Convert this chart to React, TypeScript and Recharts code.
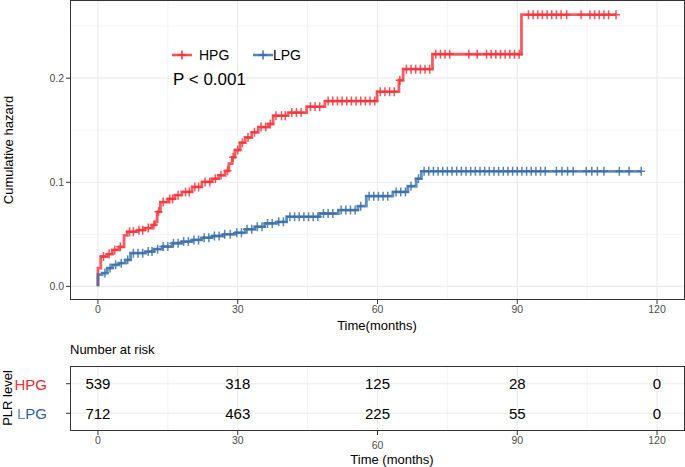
import React from 'react';
import { ComposedChart, Line, Scatter, XAxis, YAxis, CartesianGrid } from 'recharts';

// ---- data ----
const hpgTime = [0, 0, 0.6, 2.0, 3.1, 4.5, 5.6, 6.3, 8.5, 10.0, 11.6, 12.3, 12.7, 13.4, 15.0, 16.5, 18.0, 20.2, 22.3, 24.5, 25.9, 27.3, 28.1, 28.8, 29.4, 30.5, 31.6, 33.0, 34.4, 36.6, 37.6, 40.8, 44.8, 48.7, 59.9, 64.6, 65.5, 71.8, 90.9, 111.2];
const hpgHaz = [0, 0.0176, 0.0287, 0.031, 0.035, 0.038, 0.049, 0.0525, 0.054, 0.056, 0.059, 0.062, 0.0716, 0.081, 0.084, 0.0876, 0.0907, 0.0955, 0.1003, 0.1035, 0.1067, 0.111, 0.118, 0.124, 0.131, 0.138, 0.143, 0.148, 0.153, 0.156, 0.164, 0.167, 0.1726, 0.178, 0.187, 0.198, 0.2086, 0.223, 0.261, 0.261];

const lpgTime = [0, 0, 0.9, 2.0, 3.1, 4.5, 5.9, 7.0, 10.2, 12.0, 13.8, 15.9, 18.0, 20.2, 22.3, 24.5, 27.0, 29.5, 31.6, 33.7, 35.8, 38.4, 40.5, 47.6, 51.6, 55.8, 57.6, 63.3, 66.5, 68.3, 69.4, 116.6];
const lpgHaz = [0, 0.0112, 0.0128, 0.0176, 0.0207, 0.0223, 0.0255, 0.0319, 0.0334, 0.0357, 0.0382, 0.0414, 0.043, 0.0446, 0.0468, 0.0484, 0.05, 0.0516, 0.0548, 0.0573, 0.0605, 0.062, 0.0669, 0.07, 0.0733, 0.077, 0.0866, 0.0907, 0.0962, 0.1035, 0.1105, 0.1105];

const hpgCensor = [1.2, 2.4, 3.6, 4.8, 6.8, 7.6, 8.8, 9.6, 10.8, 12.0, 13.0, 14.0, 15.4, 16.0, 17.2, 18.8, 19.6, 20.8, 21.6, 23.0, 24.0, 25.2, 26.4, 27.8, 29.0, 30.0, 31.0, 32.2, 33.6, 35.0, 36.0, 37.0, 38.2, 39.4, 40.2, 41.6, 42.6, 43.6, 45.6, 46.6, 47.6, 49.4, 50.4, 51.4, 52.4, 53.4, 54.4, 55.4, 56.4, 57.4, 58.4, 59.4, 60.6, 61.6, 62.6, 63.6, 64.8, 66.2, 67.2, 68.2, 69.2, 70.2, 71.2, 72.5, 73.5, 74.5, 75.5, 79.6, 81.4, 83.4, 84.4, 85.4, 86.4, 87.4, 88.4, 89.4, 90.4, 92.4, 93.4, 94.4, 95.4, 96.4, 97.4, 98.4, 99.4, 100.6, 103.7, 105.6, 106.6, 107.6, 108.6, 109.6, 111.2];
const lpgCensor = [1.5, 2.6, 3.8, 5.0, 6.4, 7.6, 8.6, 9.6, 10.8, 11.6, 12.8, 14.0, 15.0, 16.2, 17.2, 18.4, 19.4, 20.6, 21.6, 22.8, 23.8, 25.0, 26.0, 27.2, 28.4, 29.8, 30.8, 32.0, 33.0, 34.2, 35.2, 36.4, 37.4, 38.8, 39.8, 41.2, 42.2, 43.2, 44.2, 45.2, 46.2, 47.2, 48.4, 49.4, 50.4, 52.2, 53.2, 54.2, 55.2, 56.4, 58.2, 59.2, 60.2, 61.2, 62.2, 64.0, 65.0, 66.0, 67.2, 68.8, 70.0, 71.0, 72.0, 73.0, 74.0, 75.0, 76.0, 77.0, 78.0, 79.0, 80.0, 81.0, 82.0, 83.0, 84.0, 85.0, 86.0, 87.0, 88.0, 89.0, 90.0, 91.0, 92.0, 93.0, 94.0, 95.0, 96.0, 98.4, 99.6, 100.8, 102.0, 104.8, 106.0, 107.2, 108.6, 111.9, 114.0, 116.6];

const groups = ['HPG', 'LPG'];
const riskTimes = [0, 30, 60, 90, 120];
const hpgRisk = [539, 318, 125, 28, 0];
const lpgRisk = [712, 463, 225, 55, 0];

const xTicks = [0, 30, 60, 90, 120];
const xMinor = [15, 45, 75, 105];
const yTicks = [0, 0.1, 0.2];
const yMinor = [0.05, 0.15, 0.25];

// ---- styles ----
const RED = '#F2333B';
const BLUE = '#3A6EA8';
const LABEL_COLORS = [
  ['#F5333D', '#E0262E'],
  ['#5A8CC6', '#2C5E9C'],
];
const FONT = '"Liberation Sans", Arial, Helvetica, sans-serif';
const GRID = '#EBEBEB';
const TICK_COLOR = '#4D4D4D';

function stepValue(times: number[], haz: number[], t: number) {
  let v = haz[0];
  for (let i = 0; i < times.length; i++) if (times[i] <= t) v = haz[i];
  return v;
}

const hpgData = hpgTime.map((t, i) => ({ t, v: hpgHaz[i] }));
const lpgData = lpgTime.map((t, i) => ({ t, v: lpgHaz[i] }));
const hpgMarks = hpgCensor.map((t) => ({ t, v: stepValue(hpgTime, hpgHaz, t) }));
const lpgMarks = lpgCensor.map((t) => ({ t, v: stepValue(lpgTime, lpgHaz, t) }));

const riskData = [
  ...riskTimes.map((t, i) => ({ t, row: 1, n: hpgRisk[i] })),
  ...riskTimes.map((t, i) => ({ t, row: 2, n: lpgRisk[i] })),
];

const plus = (color: string) => (props: any) => {
  const { cx, cy } = props;
  if (cx == null || cy == null) return <g />;
  return (
    <path
      d={`M${cx - 4},${cy}h8M${cx},${cy - 4.5}v9`}
      stroke={color}
      strokeWidth={1.5}
      strokeOpacity={0.85}
      fill="none"
    />
  );
};

const riskCell = (props: any) => {
  const { cx, cy, payload } = props;
  if (cx == null || cy == null) return <g />;
  return (
    <text x={cx} y={cy} textAnchor="middle" dominantBaseline="central" fontSize={15} fill="#000" fontFamily={FONT}>
      {payload.n}
    </text>
  );
};

const riskYTick = (props: any) => {
  const { x, y, payload } = props;
  const idx = payload.value - 1;
  const name = groups[idx];
  return (
    <text x={x} y={y} textAnchor="end" dominantBaseline="central" fontSize={15} fontFamily={FONT}>
      <tspan fill={LABEL_COLORS[idx][0]}>{name.slice(0, 1)}</tspan>
      <tspan fill={LABEL_COLORS[idx][1]}>{name.slice(1)}</tspan>
    </text>
  );
};

const riskXTick = (props: any) => {
  const { x, y, payload } = props;
  const shift = payload.value === 60 ? 5 : 0;
  return (
    <text x={x} y={y + shift} dy="0.71em" textAnchor="middle" fontSize={10.5} fill={TICK_COLOR} fontFamily={FONT}>
      {payload.value}
    </text>
  );
};

const abs = (style: React.CSSProperties): React.CSSProperties => ({ position: 'absolute', whiteSpace: 'nowrap', fontFamily: FONT, ...style });

const LegendIcon = ({ color }: { color: string }) => (
  <svg width={20} height={14} style={{ display: 'block' }}>
    <line x1={0} y1={7} x2={20} y2={7} stroke={color} strokeWidth={2.6} strokeOpacity={0.85} />
    <path d="M6,7h8M10,2.5v9" stroke={color} strokeWidth={1.5} />
  </svg>
);

export default function App() {
  return (
    <div style={{ position: 'absolute', left: 0, top: 0, width: 685, height: 467, background: '#fff', overflow: 'hidden' }}>
      {/* main plot */}
      <div style={{ position: 'absolute', left: 0, top: 0 }}>
        <ComposedChart width={685} height={340} margin={{ top: 0, right: 0, bottom: 0, left: 0 }}>
          <CartesianGrid stroke={GRID} strokeWidth={0.6} verticalValues={xMinor} horizontalValues={yMinor} />
          <CartesianGrid stroke={GRID} strokeWidth={1.1} verticalValues={xTicks} horizontalValues={yTicks} />
          <XAxis
            dataKey="t"
            type="number"
            domain={[-6, 126]}
            ticks={xTicks}
            allowDataOverflow
            height={40}
            axisLine={false}
            tickSize={4}
            tickLine={{ stroke: '#333' }}
            tick={{ fontSize: 10.5, fill: TICK_COLOR, fontFamily: FONT }}
          />
          <YAxis
            type="number"
            domain={[-0.0131, 0.2751]}
            ticks={yTicks}
            allowDataOverflow
            width={70}
            axisLine={false}
            tickSize={4}
            tickLine={{ stroke: '#333' }}
            tickFormatter={(v: number) => v.toFixed(1)}
            tick={{ fontSize: 10.5, fill: TICK_COLOR, fontFamily: FONT }}
          />
          <Line data={hpgData} dataKey="v" type="stepAfter" stroke={RED} strokeWidth={2.8} strokeOpacity={0.8} dot={false} isAnimationActive={false} />
          <Line data={lpgData} dataKey="v" type="stepAfter" stroke={BLUE} strokeWidth={2.8} strokeOpacity={0.8} dot={false} isAnimationActive={false} />
          <Scatter data={hpgMarks} dataKey="v" shape={plus(RED)} isAnimationActive={false} />
          <Scatter data={lpgMarks} dataKey="v" shape={plus(BLUE)} isAnimationActive={false} />
        </ComposedChart>
      </div>
      <div style={{ position: 'absolute', left: 70, top: 0, width: 615, height: 300, border: '1px solid #333', boxSizing: 'border-box', pointerEvents: 'none' }} />

      {/* legend and p-value */}
      <div style={abs({ left: 172, top: 48 })}><LegendIcon color={RED} /></div>
      <div style={abs({ left: 199, top: 46, fontSize: 14, lineHeight: '18px' })}>HPG</div>
      <div style={abs({ left: 253, top: 48 })}><LegendIcon color={BLUE} /></div>
      <div style={abs({ left: 273, top: 46, fontSize: 14, lineHeight: '18px' })}>LPG</div>
      <div style={abs({ left: 173, top: 69, fontSize: 17, lineHeight: '22px' })}>P &lt; 0.001</div>

      {/* axis titles */}
      <div style={abs({ left: 8, top: 150, fontSize: 13, transform: 'translate(-50%, -50%) rotate(-90deg)' })}>Cumulative hazard</div>
      <div style={abs({ left: 377, top: 325, fontSize: 13, transform: 'translate(-50%, -50%)' })}>Time(months)</div>

      {/* risk table */}
      <div style={abs({ left: 70, top: 342, fontSize: 13, lineHeight: '16px' })}>Number at risk</div>
      <div style={{ position: 'absolute', left: 0, top: 335 }}>
        <ComposedChart width={685} height={132} margin={{ top: 31, right: 0, bottom: 0, left: 0 }}>
          <CartesianGrid stroke={GRID} strokeWidth={0.6} verticalValues={xMinor} horizontalValues={[]} horizontal={false} />
          <CartesianGrid stroke={GRID} strokeWidth={1.1} verticalValues={xTicks} horizontalValues={[1, 2]} />
          <XAxis
            dataKey="t"
            type="number"
            domain={[-6, 126]}
            ticks={xTicks}
            allowDataOverflow
            height={36}
            axisLine={false}
            tickSize={4}
            tickLine={{ stroke: '#333' }}
            tick={riskXTick}
          />
          <YAxis
            type="number"
            domain={[0.4, 2.6]}
            ticks={[1, 2]}
            reversed
            width={70}
            axisLine={false}
            tickSize={4}
            tickMargin={19}
            tickLine={{ stroke: '#333' }}
            tick={riskYTick}
          />
          <Scatter data={riskData} dataKey="row" shape={riskCell} isAnimationActive={false} />
        </ComposedChart>
      </div>
      <div style={{ position: 'absolute', left: 70, top: 366, width: 615, height: 65, border: '1px solid #333', boxSizing: 'border-box', pointerEvents: 'none' }} />
      <div style={abs({ left: 7, top: 398, fontSize: 13, transform: 'translate(-50%, -50%) rotate(-90deg)' })}>PLR level</div>
      <div style={abs({ left: 392, top: 459, fontSize: 13, transform: 'translate(-50%, -50%)' })}>Time (months)</div>
    </div>
  );
}
